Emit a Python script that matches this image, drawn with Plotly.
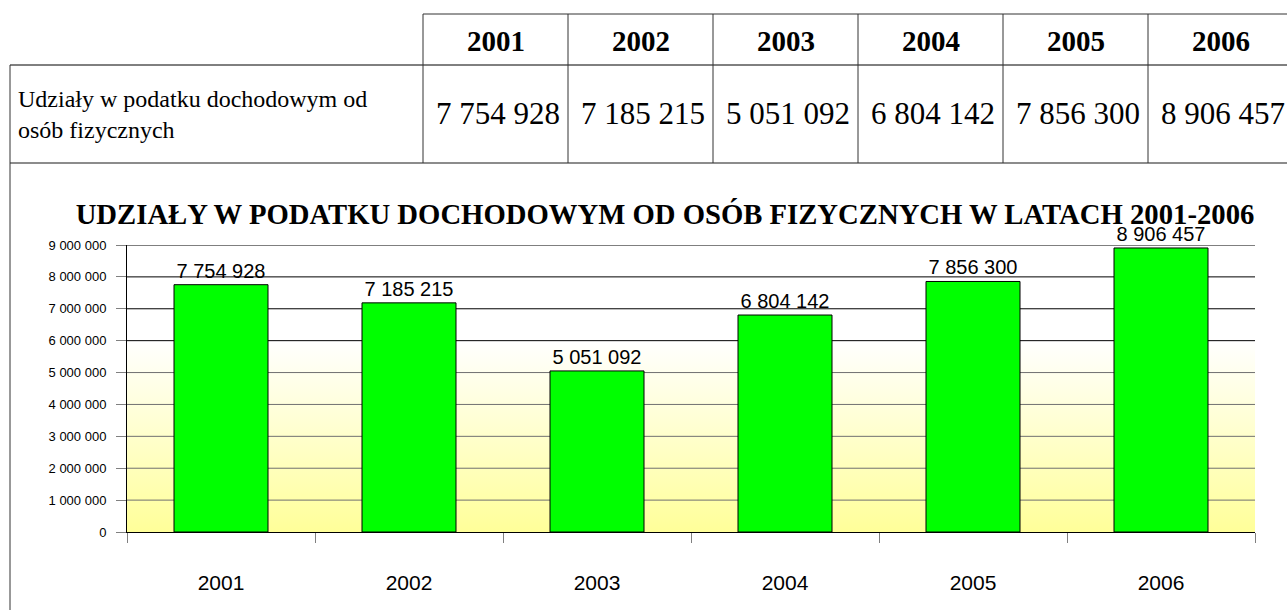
import base64
import plotly.graph_objects as go

# ---- data ----
years = ["2001", "2002", "2003", "2004", "2005", "2006"]
values = [7754928, 7185215, 5051092, 6804142, 7856300, 8906457]
row_label = "Udziały w podatku dochodowym od<br>osób fizycznych"
chart_title = "UDZIAŁY W PODATKU DOCHODOWYM OD OSÓB FIZYCZNYCH W LATACH 2001-2006"
y_ticks = [0, 1000000, 2000000, 3000000, 4000000, 5000000, 6000000, 7000000, 8000000, 9000000]

# ---- layout geometry ----
W, H = 1287, 610
ML, MR, MT, MB = 127, 32, 245, 78
PW = W - ML - MR
PH = H - MT - MB


def px(x):
    return (x - ML) / PW


def py(y):
    return (H - MB - y) / PH


def fmt(v):
    return f"{v:,}".replace(",", " ")


SERIF = "Liberation Serif, Times New Roman, serif"
SANS = "Liberation Sans, Arial, sans-serif"

fig = go.Figure()
fig.add_trace(go.Bar(
    x=years, y=values,
    marker=dict(color="#00FF00", line=dict(color="#000000", width=1)),
    texttemplate="%{y:,d}", textposition="outside",
    textfont=dict(family=SANS, size=20, color="#000000"),
    constraintext="none", cliponaxis=False, hoverinfo="skip",
))

shapes = []
# gridlines
for v in y_ticks[1:]:
    shapes.append(dict(type="line", xref="paper", yref="y", x0=0, x1=1, y0=v, y1=v,
                       line=dict(color="#000000" if v >= 6000000 else "#707070", width=1),
                       layer="below"))

# table lines
LC = "#333333"
col_edges = [423, 568, 713, 858, 1003, 1148, 1293]
top, mid, bot = 14, 65, 163
shapes.append(dict(type="line", xref="paper", yref="paper", x0=px(423), x1=px(1300), y0=py(top), y1=py(top), line=dict(color=LC, width=1)))
shapes.append(dict(type="line", xref="paper", yref="paper", x0=px(10), x1=px(1300), y0=py(mid), y1=py(mid), line=dict(color="#000000", width=1)))
shapes.append(dict(type="line", xref="paper", yref="paper", x0=px(10), x1=px(1300), y0=py(bot), y1=py(bot), line=dict(color="#666666", width=1.5)))
shapes.append(dict(type="line", xref="paper", yref="paper", x0=px(10), x1=px(10), y0=py(mid), y1=py(H + 5), line=dict(color=LC, width=1)))
for e in col_edges[:-1]:
    shapes.append(dict(type="line", xref="paper", yref="paper", x0=px(e), x1=px(e), y0=py(top), y1=py(bot), line=dict(color=LC, width=1)))

annotations = []
for i, (yr, v) in enumerate(zip(years, values)):
    cx = (col_edges[i] + col_edges[i + 1]) / 2
    annotations.append(dict(xref="paper", yref="paper", x=px(cx), y=py((top + mid) / 2 + 1),
                            text=f"<b>{yr}</b>", showarrow=False, xanchor="center", yanchor="middle",
                            font=dict(family=SERIF, size=29, color="#000000")))
    annotations.append(dict(xref="paper", yref="paper", x=px(cx + 2), y=py((mid + bot) / 2 - 1),
                            text=fmt(v), showarrow=False, xanchor="center", yanchor="middle",
                            font=dict(family=SERIF, size=31, color="#000000")))
annotations.append(dict(xref="paper", yref="paper", x=px(16), y=py((mid + bot) / 2),
                        text=row_label, showarrow=False, xanchor="left", yanchor="middle", align="left",
                        font=dict(family=SERIF, size=24, color="#000000")))

# gradient background (lower part of plot area)
svg = ('<svg xmlns="http://www.w3.org/2000/svg" width="100" height="100" preserveAspectRatio="none" '
       'viewBox="0 0 100 100"><defs><linearGradient id="g" x1="0" y1="0" x2="0" y2="1">'
       '<stop offset="0" stop-color="#FFFFFF"/><stop offset="1" stop-color="#FFFF99"/>'
       '</linearGradient></defs><rect width="100" height="100" fill="url(#g)"/></svg>')
src = "data:image/svg+xml;base64," + base64.b64encode(svg.encode()).decode()

fig.update_layout(
    width=W, height=H,
    margin=dict(l=ML, r=MR, t=MT, b=MB, pad=0),
    paper_bgcolor="#FFFFFF", plot_bgcolor="#FFFFFF",
    separators=", ",
    showlegend=False,
    bargap=0.5,
    title=dict(text=f"<b>{chart_title}</b>", x=665 / W, xref="container", xanchor="center",
               y=1 - 214 / H, yref="container", yanchor="middle",
               font=dict(family=SERIF, size=28.7, color="#000000")),
    xaxis=dict(type="category", showline=True, linecolor="#000000", linewidth=1,
               ticks="outside", tickson="boundaries", ticklen=10, tickcolor="#808080",
               ticklabelstandoff=32,
               tickfont=dict(family=SANS, size=21, color="#000000"), showgrid=False),
    yaxis=dict(range=[0, 9000000], tickvals=y_ticks, tickformat=",d", showline=True,
               linecolor="#000000", linewidth=1, ticks="outside", ticklen=10, tickcolor="#808080",
               ticklabelstandoff=7,
               tickfont=dict(family=SANS, size=13, color="#000000"), showgrid=False, zeroline=False),
    shapes=shapes,
    annotations=annotations,
    images=[dict(source=src, xref="paper", yref="y", x=0, y=6000000, sizex=1, sizey=6000000,
                 sizing="stretch", layer="below", xanchor="left", yanchor="top")],
)

fig.write_html("out.html", config={"displayModeBar": False},
               post_script="document.body.style.margin='0';document.body.style.overflow='hidden';")
